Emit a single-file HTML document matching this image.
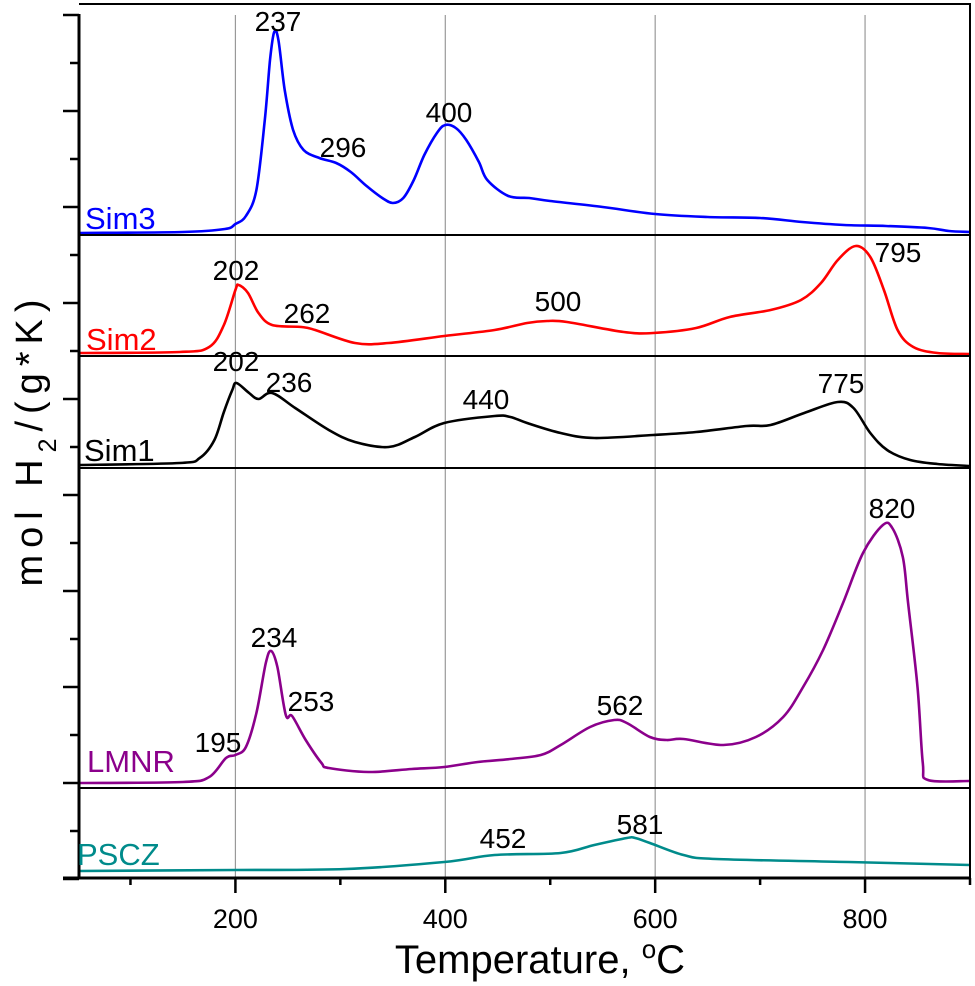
<!DOCTYPE html>
<html><head><meta charset="utf-8"><style>
html,body{margin:0;padding:0;background:#fff;}
svg{display:block;font-family:"Liberation Sans",Arial,sans-serif;}
</style></head><body>
<svg id="chart" width="975" height="986" viewBox="0 0 975 986" xmlns="http://www.w3.org/2000/svg">
<g id="grid"></g>
<g id="series"></g>
<g id="axes"></g>
<g id="labels"></g>
<text transform="translate(42,443) rotate(-90)" text-anchor="middle" font-size="38" textLength="287" lengthAdjust="spacing">mol H<tspan baseline-shift="sub" font-size="25">2</tspan>/(g*K)</text>
<text x="540" y="973" text-anchor="middle" font-size="40">Temperature, <tspan baseline-shift="super" font-size="26">o</tspan>C</text>
</svg>
<script>
// ---- data ----
const xTicks = [100,200,300,400,500,600,700,800,900];
const xTickLabels = ["200","400","600","800"];
const sim3T = [50,150,190,200,210,220,228,233,237,241,247,255,265,280,296,310,325,340,350,360,370,380,392,400,410,420,432,440,460,480,500,550,600,650,700,740,780,820,860,880,900];
const sim3V = [2,3,6,11,19,45,115,175,203,195,145,105,85,77,72,63,49,37,32,37,55,80,102,110,107,95,73,55,39,37,34,28,21,18,17,13,10,9,7,4,3];
const sim2T = [50,147,175,189,200,203,212,222,235,263,276,314,346,399,447,478,497,516,570,598,639,671,710,739,758,774,791,805,818,831,846,869,900];
const sim2V = [3,4,9,31,66,71,63,43,31,29,26,13,13,20,26,33,35,34,24,23,28,39,46,56,73,96,110,99,66,26,9,3,2];
const sim1T = [50,147,166,180,189,197,201,213,222,235,257,289,314,346,371,399,447,462,478,510,542,598,639,687,710,742,774,789,805,821,843,869,900];
const sim1V = [3,5,10,28,56,78,85,75,69,75,60,38,26,21,31,45,52,51,45,35,30,33,36,42,43,55,66,60,35,18,8,4,2];
const lmnrT = [50,150,175,191,200,210,220,229,234,240,248,254,267,282,289,327,368,399,431,462,491,510,538,561,573,595,611,627,665,696,722,741,760,779,798,817,826,836,841,850,855,860,900];
const lmnrV = [5,6,11,30,33,41,75,125,137,121,73,72,48,25,20,16,19,21,26,29,33,43,61,68,65,51,48,49,43,51,71,101,138,185,235,263,260,231,185,101,25,8,7];
const psczT = [50,200,305,399,447,510,542,573,581,595,627,658,784,900];
const psczV = [7,8,9,16,23,25,33,40,40,35,23,19,16,13];
const peakSim3 = [237,296,400];
const peakSim2 = [202,262,500,795];
const peakSim1 = [202,236,440,775];
const peakLmnr = [195,234,253,562,820];
const peakPscz = [452,581];

// ---- scales ----
const X0=78, X1=970, T0=50, T1=900;
function x(t){return X0+(t-T0)*(X1-X0)/(T1-T0);}
const NS="http://www.w3.org/2000/svg";
function mk(tag,attrs,parent){const e=document.createElementNS(NS,tag);for(const k in attrs)e.setAttribute(k,attrs[k]);parent.appendChild(e);return e;}
const grid=document.getElementById('grid'), ser=document.getElementById('series'), ax=document.getElementById('axes'), lab=document.getElementById('labels');

function smoothPath(pts){
  let d='M'+pts[0][0].toFixed(1)+','+pts[0][1].toFixed(1);
  for(let i=0;i<pts.length-1;i++){
    const p0=pts[Math.max(0,i-1)],p1=pts[i],p2=pts[i+1],p3=pts[Math.min(pts.length-1,i+2)];
    const c1x=p1[0]+(p2[0]-p0[0])/6,c1y=p1[1]+(p2[1]-p0[1])/6;
    const c2x=p2[0]-(p3[0]-p1[0])/6,c2y=p2[1]-(p3[1]-p1[1])/6;
    d+='C'+c1x.toFixed(1)+','+c1y.toFixed(1)+' '+c2x.toFixed(1)+','+c2y.toFixed(1)+' '+p2[0].toFixed(1)+','+p2[1].toFixed(1);
  }
  return d;
}

[200,400,600,800].forEach(t=>{
  const l=mk('line',{x1:x(t),x2:x(t),y1:15,y2:878,stroke:'#999','stroke-width':1.2},grid);
  
  
});

const panels=[
 {name:'sim3',T:sim3T,V:sim3V,base:235,color:'#0000ff',label:'Sim3',lx:85,ly:229,peaks:peakSim3,pl:[[278,31],[343,157],[449,122]]},
 {name:'sim2',T:sim2T,V:sim2V,base:356,color:'#ff0000',label:'Sim2',lx:86,ly:350,peaks:peakSim2,pl:[[236,280],[307,323],[558,311],[898,262]]},
 {name:'sim1',T:sim1T,V:sim1V,base:468,color:'#000000',label:'Sim1',lx:84,ly:461,peaks:peakSim1,pl:[[236,371],[289,392],[486,409],[841,393]]},
 {name:'lmnr',T:lmnrT,V:lmnrV,base:788,color:'#8b008b',label:'LMNR',lx:87,ly:772,peaks:peakLmnr,pl:[[218,752],[274,647],[311,711],[620,715],[892,518]]},
 {name:'pscz',T:psczT,V:psczV,base:878,color:'#008b8b',label:'PSCZ',lx:77,ly:865,peaks:peakPscz,pl:[[503,848],[640,834]]}
];
panels.forEach(p=>{
  const y=v=>p.base-v;
  const pts=p.T.map((t,i)=>[x(t),y(p.V[i])]);
  const path=mk('path',{d:smoothPath(pts),fill:'none',stroke:p.color,'stroke-width':2.6,'stroke-linejoin':'round'},ser);
  
  
  const tl=mk('text',{x:p.lx,y:p.ly,fill:p.color,'font-size':31},lab);
  tl.textContent=p.label;
  
  
  p.peaks.forEach((pk,i)=>{
    const t=mk('text',{x:p.pl[i][0],y:p.pl[i][1],'text-anchor':'middle','font-size':28,fill:'#000'},lab);
    t.textContent=String(pk);
    
    
  });
});

[235,356,468,788].forEach(yy=>{
  const l=mk('line',{x1:79,x2:970,y1:yy,y2:yy,stroke:'#000','stroke-width':2},ax);
  
  
});
const frameTop=mk('line',{x1:79,x2:971,y1:4,y2:4,stroke:'#000','stroke-width':2},ax);


const frameRight=mk('line',{x1:970,x2:970,y1:4,y2:879,stroke:'#000','stroke-width':2},ax);


const yAxisLine=mk('line',{x1:79,x2:79,y1:14,y2:879,stroke:'#000','stroke-width':3},ax);


const xAxisLine=mk('line',{x1:63,x2:971,y1:878,y2:878,stroke:'#000','stroke-width':3},ax);



for(let k=0;k<=18;k++){
  const yy=15+48*k, major=(k%2===0);
  const l=mk('line',{x1:major?63:70,x2:79,y1:yy,y2:yy,stroke:'#000','stroke-width':2.5},ax);
  
  
}
xTicks.forEach(t=>{
  const major=(t%200===0);
  const l=mk('line',{x1:x(t),x2:x(t),y1:878,y2:major?893:885,stroke:'#000','stroke-width':2.5},ax);
  
  
});
xTickLabels.forEach(s=>{
  const t=mk('text',{x:x(+s),y:928,'text-anchor':'middle','font-size':27},ax);
  t.textContent=s;
  
  
});
</script>
</body></html>
